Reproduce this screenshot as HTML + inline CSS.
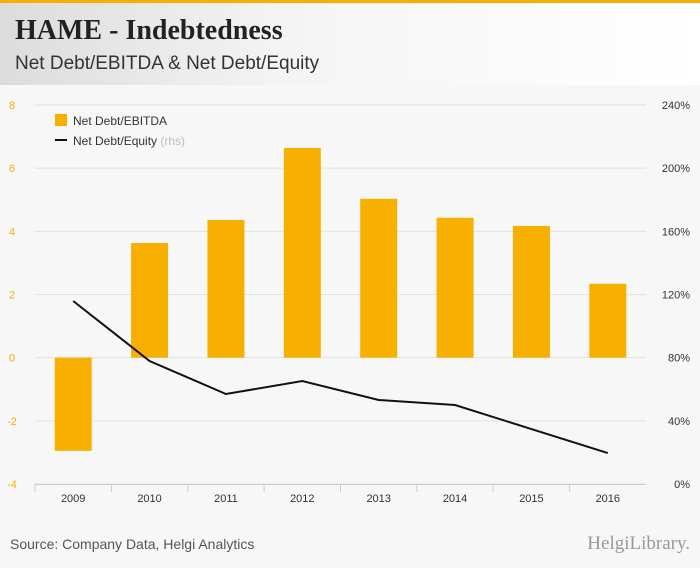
<!DOCTYPE html>
<html><head><meta charset="utf-8"><style>
body{margin:0;width:700px;height:568px;background:#f7f7f7;font-family:"Liberation Sans",sans-serif;overflow:hidden;position:relative}
#topline{position:absolute;left:0;top:0;width:700px;height:3px;background:#f5b000}
#header{position:absolute;left:0;top:3px;width:700px;height:82px;background:linear-gradient(90deg,#dcdcdc 0%,#f4f4f4 40%,#fff 100%)}
#title{position:absolute;left:15px;top:12px;font-family:"Liberation Serif",serif;font-size:28px;font-weight:bold;color:#222}
#subtitle{position:absolute;left:15px;top:50px;font-size:19px;color:#333}
#footer{position:absolute;left:10px;top:536px;font-size:14px;color:#555}
#logo{position:absolute;right:10px;top:533px;font-family:"Liberation Serif",serif;font-size:19px;color:#999}
svg{position:absolute;left:0;top:0}
</style></head><body>
<div id="topline"></div>
<div id="header">
<div id="title">HAME - Indebtedness</div>
<div id="subtitle">Net Debt/EBITDA &amp; Net Debt/Equity</div>
</div>
<svg id="chart" width="700" height="568"></svg>
<div id="footer">Source: Company Data, Helgi Analytics</div>
<div id="logo">HelgiLibrary.</div>
<script>
const categories=["2009","2010","2011","2012","2013","2014","2015","2016"];
const ebitdaValues=[-2.95,3.63,4.36,6.64,5.03,4.43,4.17,2.34];
const equityValues=[115.9,77.9,57,65.2,53.2,50,34.8,19.6];
const leftTicks=[-4,-2,0,2,4,6,8];
const rightTicks=[0,40,80,120,160,200,240];
const NS="http://www.w3.org/2000/svg";
const svg=document.getElementById('chart');
const plotL=35,plotR=646,plotT=105,plotB=484;
const yL=v=>plotB-(v-(-4))/12*(plotB-plotT);
const yR=v=>plotB-v/240*(plotB-plotT);
const step=(plotR-plotL)/categories.length;
const xC=i=>plotL+step*(i+0.5);
function mk(t,a){const e=document.createElementNS(NS,t);for(const k in a)e.setAttribute(k,a[k]);svg.appendChild(e);return e;}
leftTicks.forEach(v=>{
 const g=mk('line',{x1:plotL,x2:plotR,y1:yL(v),y2:yL(v),stroke:'#e2e2e2','stroke-width':1});
 
 
 const t=mk('text',{x:12,y:yL(v)+4,'font-size':11,fill:'#f5b000','text-anchor':'middle'});
 t.textContent=v;
 
 
});
rightTicks.forEach(v=>{
 const t=mk('text',{x:690,y:yR(v)+4,'font-size':11,fill:'#333','text-anchor':'end'});
 t.textContent=v+'%';
 
 
});
const ax=mk('line',{x1:plotL,x2:plotR,y1:plotB+0.5,y2:plotB+0.5,stroke:'#ccc'});


categories.forEach((c,i)=>{
 const tk=mk('line',{x1:plotL+step*i,x2:plotL+step*i,y1:plotB,y2:plotB+8,stroke:'#ccc'});
 
 
 const t=mk('text',{x:xC(i),y:plotB+18,'font-size':11,fill:'#333','text-anchor':'middle'});
 t.textContent=c;
 
 
 const v=ebitdaValues[i];
 const b=mk('rect',{x:xC(i)-18.5,y:Math.min(yL(v),yL(0)),width:37,height:Math.abs(yL(v)-yL(0)),fill:'#f8b000'});
 
 
});
const pl=mk('polyline',{points:equityValues.map((v,i)=>xC(i)+','+yR(v)).join(' '),fill:'none',stroke:'#111','stroke-width':2});


const lr=mk('rect',{x:55,y:114,width:12,height:12,fill:'#f8b000'});


const lt=mk('text',{x:73,y:125,'font-size':12,fill:'#333'});lt.textContent='Net Debt/EBITDA';


const ll=mk('line',{x1:55,x2:67,y1:140,y2:140,stroke:'#111','stroke-width':2});


const lt2=mk('text',{x:73,y:145,'font-size':12,fill:'#333'});
lt2.innerHTML='Net Debt/Equity <tspan fill="#bbb">(rhs)</tspan>';


</script>
</body></html>
